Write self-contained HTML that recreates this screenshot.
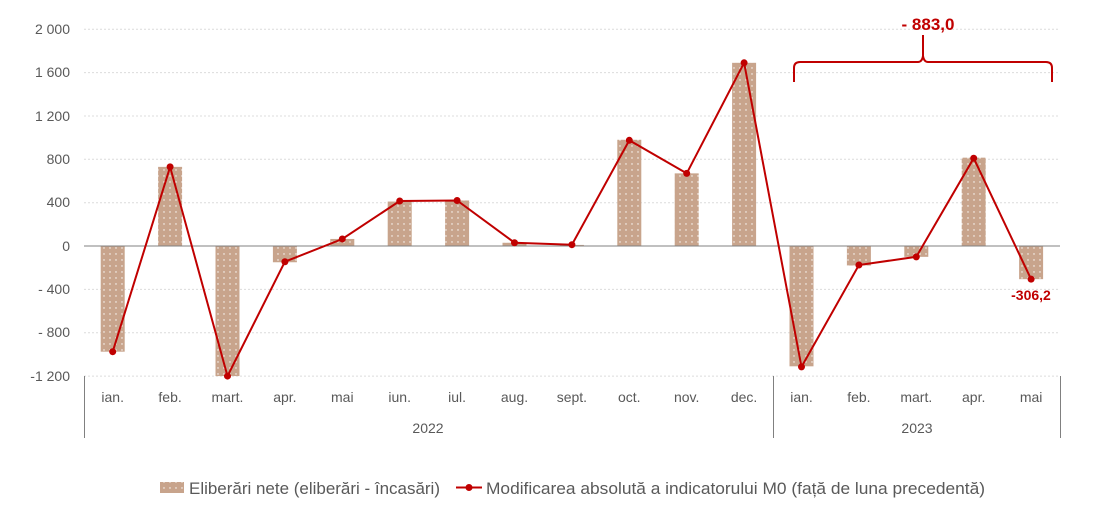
<!DOCTYPE html>
<html><head><meta charset="utf-8"><style>body{margin:0;background:#fff}svg{display:block;font-family:"Liberation Sans",sans-serif}</style></head><body>
<svg width="1100" height="524" viewBox="0 0 1100 524">
<defs><pattern id="dots" width="6" height="6" patternUnits="userSpaceOnUse"><rect width="6" height="6" fill="#c8a48c"/><circle cx="2" cy="2" r="0.7" fill="#fff"/></pattern></defs>
<g stroke="#dcdcdc" stroke-dasharray="2,2" stroke-width="1">
<line x1="84" x2="1060" y1="29.2" y2="29.2"/><line x1="84" x2="1060" y1="72.6" y2="72.6"/><line x1="84" x2="1060" y1="116" y2="116"/><line x1="84" x2="1060" y1="159.3" y2="159.3"/><line x1="84" x2="1060" y1="202.7" y2="202.7"/><line x1="84" x2="1060" y1="289.4" y2="289.4"/><line x1="84" x2="1060" y1="332.7" y2="332.7"/><line x1="84" x2="1060" y1="376.1" y2="376.1"/>
</g>
<g font-size="14" fill="#595959" text-anchor="end">
<text x="70" y="34">2 000</text><text x="70" y="77">1 600</text><text x="70" y="121">1 200</text><text x="70" y="164">800</text><text x="70" y="207">400</text><text x="70" y="251">0</text><text x="70" y="294">- 400</text><text x="70" y="337">- 800</text><text x="70" y="381">-1 200</text>
</g>
<g id="bars"></g>
<line x1="84" x2="1060" y1="246" y2="246" stroke="#808080"/>
<g stroke="#808080"><line x1="84.5" x2="84.5" y1="376" y2="438"/><line x1="773.5" x2="773.5" y1="376" y2="438"/><line x1="1060.5" x2="1060.5" y1="376" y2="438"/></g>
<g id="line"></g>
<g font-size="14" fill="#595959" text-anchor="middle" id="cats"></g>
<text x="428" y="433" font-size="14" fill="#595959" text-anchor="middle">2022</text>
<text x="917" y="433" font-size="14" fill="#595959" text-anchor="middle">2023</text>
<text x="1031" y="300" font-size="14" font-weight="bold" fill="#c00000" text-anchor="middle">-306,2</text>
<text x="928" y="30" font-size="17" font-weight="bold" fill="#c00000" text-anchor="middle">- 883,0</text>
<path d="M794 82 L794 68 Q794 62 800 62 L918 62 Q922 62 923 56 L923 35 L923 56 Q924 62 928 62 L1046 62 Q1052 62 1052 68 L1052 82" fill="none" stroke="#c00000" stroke-width="2"/>
<rect x="160" y="482" width="24" height="11" fill="url(#dots)"/>
<text x="189" y="494" font-size="17" fill="#595959" textLength="251" lengthAdjust="spacingAndGlyphs">Eliberări nete (eliberări - încasări)</text>
<line x1="456" x2="482" y1="487.5" y2="487.5" stroke="#c00000" stroke-width="2"/><circle cx="469" cy="487.5" r="3.5" fill="#c00000"/>
<text x="486" y="494" font-size="17" fill="#595959" textLength="499" lengthAdjust="spacingAndGlyphs">Modificarea absolută a indicatorului M0 (față de luna precedentă)</text>
<script>
var bars=[-975,730,-1200,-150,65,410,420,30,10,980,670,1690,-1110,-180,-100,815,-306];
var ln=[-975,730,-1200,-145,65,415,420,30,12,975,670,1690,-1115,-175,-100,810,-306];
var cats=["ian.","feb.","mart.","apr.","mai","iun.","iul.","aug.","sept.","oct.","nov.","dec.","ian.","feb.","mart.","apr.","mai"];
var ns="http://www.w3.org/2000/svg";function y(v){return 246-v*0.1084}function x(i){return 84+57.4*(i+0.5)}
var b=document.getElementById("bars"),l=document.getElementById("line"),c=document.getElementById("cats");var pts=[];
for(var i=0;i<17;i++){var r=document.createElementNS(ns,"rect");var t=Math.min(y(0),y(bars[i])),h=Math.abs(y(bars[i])-y(0));
r.setAttribute("x",x(i)-12);r.setAttribute("y",t);r.setAttribute("width",24);r.setAttribute("height",h);r.setAttribute("fill","url(#dots)");b.appendChild(r);
pts.push(x(i).toFixed(1)+","+y(ln[i]).toFixed(1));
var tx=document.createElementNS(ns,"text");tx.setAttribute("x",x(i));tx.setAttribute("y",402);tx.textContent=cats[i];c.appendChild(tx);}
var p=document.createElementNS(ns,"polyline");p.setAttribute("points",pts.join(" "));p.setAttribute("fill","none");p.setAttribute("stroke","#c00000");p.setAttribute("stroke-width","2");l.appendChild(p);
for(var i=0;i<17;i++){var cc=document.createElementNS(ns,"circle");cc.setAttribute("cx",x(i));cc.setAttribute("cy",y(ln[i]));cc.setAttribute("r",3.5);cc.setAttribute("fill","#c00000");l.appendChild(cc);}
</script>
</svg></body></html>
